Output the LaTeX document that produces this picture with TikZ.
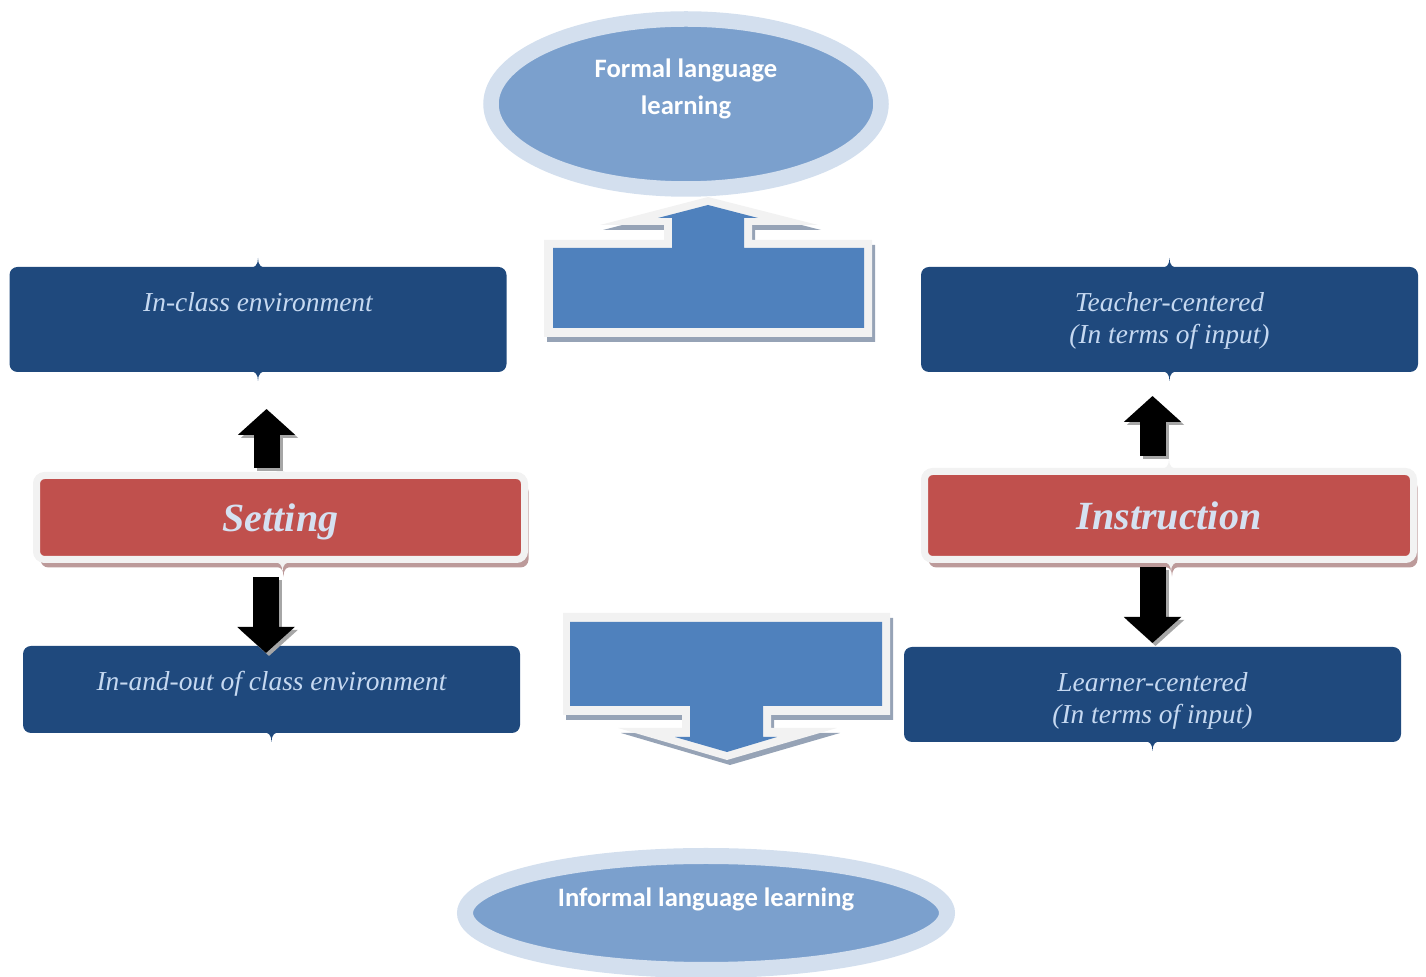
\documentclass[tikz,border=0pt]{standalone}
\usepackage{fontspec}
\setmainfont{Liberation Serif}
\newfontfamily\calibri{Carlito}
\usetikzlibrary{shapes,arrows.meta,shadows,positioning}

\definecolor{boxblue}{HTML}{1F497D}
\definecolor{boxred}{HTML}{C0504D}
\definecolor{arrowblue}{HTML}{4F81BD}
\definecolor{ovalin}{HTML}{7BA0CD}
\definecolor{ovalout}{HTML}{D3DFEE}
\definecolor{rim}{HTML}{F2F2F2}
\definecolor{rimshadow}{HTML}{96A3B6}
\definecolor{redshadow}{HTML}{BC9A9A}
\definecolor{tipshadow}{HTML}{A6A6A6}
\definecolor{txtlight}{HTML}{C6D9F1}
\definecolor{redtxt}{HTML}{D5E1F1}

\newcommand\boxfont{\fontsize{13.7}{16}\selectfont\itshape}
\newcommand\redfont{\fontsize{20}{24}\selectfont\bfseries\itshape}
\newcommand\ovalfont{\calibri\bfseries\fontsize{13.3}{18.5}\selectfont}

\tikzset{notch/.pic={\path[pic actions] (-9,1) .. controls (-3,1) and (0,-2) .. (0,-9)
  .. controls (0,-2) and (3,1) .. (9,1) -- cycle;}}

\begin{document}
\begin{tikzpicture}[x=0.5pt, y=-0.5pt,
    box/.style={rectangle, rounded corners=4pt, fill=boxblue, inner sep=0pt, outer sep=0pt, minimum width=248.5pt},
    boxtext/.style={label={[text=txtlight, font=\boxfont, align=center, inner sep=0pt, anchor=north, yshift=-12.5pt]north:#1}},
    redbox/.style={rectangle, rounded corners=4pt, fill=boxred, draw=rim, line width=3.5pt, outer sep=0pt,
      drop shadow={shadow xshift=2pt, shadow yshift=-4pt, fill=redshadow, opacity=1}, text=redtxt, font=\redfont,
      text depth=0pt},
    oval/.style={ellipse, fill=ovalin, draw=ovalout, inner sep=0pt, outer sep=0pt},
    ovaltext/.style 2 args={label={[text=white, font=\ovalfont, align=center, inner sep=0pt, yshift=#2]center:#1}},
    blk/.style={line width=13pt, -{Triangle[width=28pt,length=13pt]}}]

  \useasboundingbox (0,0) rectangle (1426,977);

  % ovals
  \node[oval, line width=7.75pt, minimum width=195pt, minimum height=85pt,
    ovaltext={Formal language\\learning}{7.75pt}] (formal) at (686,104) {};
  \node[oval, line width=8pt, minimum width=241pt, minimum height=57pt,
    ovaltext={Informal language learning}{7pt}] (informal) at (706,913) {};

  % big arrows
  \foreach \c/\dx/\dy in {rimshadow/3/5, rim/0/0}
    \fill[\c, shift={(\dx,\dy)}] (544,337) -- (544,240) -- (664,240) -- (664,225) -- (600,225) -- (708,197)
      -- (818,225) -- (752,225) -- (752,240) -- (872,240) -- (872,337) -- cycle;
  \fill[arrowblue] (553,328) -- (553,248) -- (672,248) -- (672,218) -- (658,218) -- (708,205)
    -- (758,218) -- (744,218) -- (744,248) -- (864,248) -- (864,328) -- cycle;

  \foreach \c/\dx/\dy in {rimshadow/3/5, rim/0/0}
    \fill[\c, shift={(\dx,\dy)}] (563,613) -- (890,613) -- (890,715) -- (771,715) -- (771,728) -- (837,728)
      -- (727,760) -- (618,728) -- (682,728) -- (682,715) -- (563,715) -- cycle;
  \fill[arrowblue] (570,622) -- (882,622) -- (882,706) -- (763,706) -- (763,737) -- (777,737)
    -- (727,752) -- (675,737) -- (690,737) -- (690,706) -- (570,706) -- cycle;

  % boxes
  \node[box, minimum height=52.5pt, boxtext={In-class environment}] (inclass) at (258,319.5) {};
  \node[box, minimum height=52.5pt, boxtext={Teacher-centered\\(In terms of input)}] (teacher) at (1169.5,319.5) {};
  \node[box, minimum height=43.5pt, boxtext={In-and-out of class environment}] (inandout) at (271.5,689.5) {};
  \node[box, minimum height=47.5pt, boxtext={Learner-centered\\(In terms of input)}] (learner) at (1152.5,694.5) {};

  \foreach \n in {inclass, teacher}
    \pic[fill=boxblue] at (\n.north) {notch};
  \foreach \n in {inclass, teacher, inandout, learner}
    \pic[fill=boxblue, yscale=-1] at (\n.south) {notch};

  \node[redbox, minimum width=244pt, minimum height=42pt] (setting) at (280.5,517.5) {Setting};
  \node[redbox, minimum width=244.5pt, minimum height=44pt] (instruction) at (1169,515.5) {Instruction};

  \foreach \n in {setting, instruction} {
    \pic[fill=rim] at ([yshift=1.75pt]\n.north) {notch};
    \pic[fill=redshadow, yscale=-1] at ([xshift=1.5pt, yshift=-4pt]\n.south) {notch};
    \pic[fill=rim, yscale=-1] at ([xshift=1pt, yshift=-1.75pt]\n.south) {notch};
  }

  % black arrows
  \foreach \c/\d in {tipshadow/1.5pt, black/0pt} {
    \draw[blk, draw=\c, transform canvas={xshift=\d, yshift=-\d}, shorten <=3.75pt, shorten >=18.5pt]
      ([xshift=-7pt]setting.north) -- ([xshift=-7pt]setting.north |- inclass.south);
    \draw[blk, draw=\c, transform canvas={xshift=\d, yshift=-\d}, shorten <=8.75pt, shorten >=-3.5pt]
      ([xshift=-7.25pt]setting.south) -- ([xshift=-7.25pt]setting.south |- inandout.north);
    \draw[blk, draw=\c, transform canvas={xshift=\d, yshift=-\d}, shorten <=7.75pt, shorten >=12pt]
      ([xshift=-8.25pt]instruction.north) -- ([xshift=-8.25pt]instruction.north |- teacher.south);
    \draw[blk, draw=\c, transform canvas={xshift=\d, yshift=-\d}, shorten <=3.75pt, shorten >=2pt]
      ([xshift=-8.25pt]instruction.south) -- ([xshift=-8.25pt]instruction.south |- learner.north);
  }
\end{tikzpicture}
\end{document}
